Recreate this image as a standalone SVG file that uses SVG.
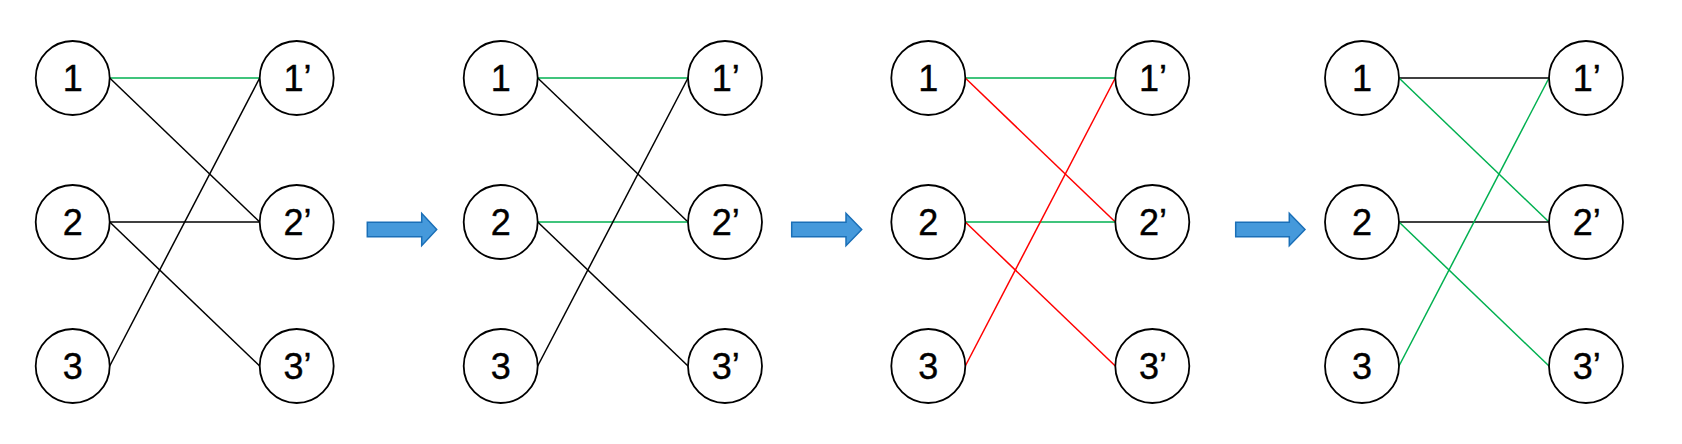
<svg xmlns="http://www.w3.org/2000/svg" width="1682" height="444" viewBox="0 0 1682 444">
<style>
.n{fill:#fff;stroke:#000;stroke-width:1.8}
.t{font-family:"Liberation Sans",Arial,sans-serif;font-size:36px;fill:#000;stroke:#000;stroke-width:0.4;text-anchor:middle}
.e{stroke-width:1.5;fill:none}
.k{stroke:#000}
.g{stroke:#00B050}
.r{stroke:#FF0000}
.a{fill:#4599DB;stroke:#1A6FB7;stroke-width:1.5}
</style>
<rect width="1682" height="444" fill="#fff"/>
<g id="connectors">
<!-- panel 1 -->
<line class="e g" x1="109.7" y1="78" x2="259.7" y2="78"/>
<line class="e k" x1="109.7" y1="78" x2="259.7" y2="222"/>
<line class="e k" x1="109.7" y1="222" x2="259.7" y2="222"/>
<line class="e k" x1="109.7" y1="222" x2="259.7" y2="366"/>
<line class="e k" x1="109.7" y1="366" x2="259.7" y2="78"/>
<!-- panel 2 -->
<line class="e g" x1="537.7" y1="78" x2="688" y2="78"/>
<line class="e k" x1="537.7" y1="78" x2="688" y2="222"/>
<line class="e g" x1="537.7" y1="222" x2="688" y2="222"/>
<line class="e k" x1="537.7" y1="222" x2="688" y2="366"/>
<line class="e k" x1="537.7" y1="366" x2="688" y2="78"/>
<!-- panel 3 -->
<line class="e g" x1="965.3" y1="78" x2="1115.3" y2="78"/>
<line class="e r" x1="965.3" y1="78" x2="1115.3" y2="222"/>
<line class="e g" x1="965.3" y1="222" x2="1115.3" y2="222"/>
<line class="e r" x1="965.3" y1="222" x2="1115.3" y2="366"/>
<line class="e r" x1="965.3" y1="366" x2="1115.3" y2="78"/>
<!-- panel 4 -->
<line class="e k" x1="1399" y1="78" x2="1549" y2="78"/>
<line class="e g" x1="1399" y1="78" x2="1549" y2="222"/>
<line class="e k" x1="1399" y1="222" x2="1549" y2="222"/>
<line class="e g" x1="1399" y1="222" x2="1549" y2="366"/>
<line class="e g" x1="1399" y1="366" x2="1549" y2="78"/>
</g>
<g id="arrows">
<polygon id="arrow1" class="a" points="367.3,222.3 421.7,222.3 421.7,213.3 436.7,229.5 421.7,245.7 421.7,236.7 367.3,236.7"/>
<polygon id="arrow2" class="a" points="791.7,222.3 846,222.3 846,213.3 861.7,229.5 846,245.7 846,236.7 791.7,236.7"/>
<polygon id="arrow3" class="a" points="1235.7,222.3 1289.3,222.3 1289.3,213.3 1305,229.5 1289.3,245.7 1289.3,236.7 1235.7,236.7"/>
</g>
<!-- panel 1 nodes -->
<g id="p1-n1"><circle class="n" cx="72.7" cy="78" r="37"/><text class="t" x="72.7" y="91">1</text></g>
<g id="p1-n2"><circle class="n" cx="72.7" cy="222" r="37"/><text class="t" x="72.7" y="235">2</text></g>
<g id="p1-n3"><circle class="n" cx="72.7" cy="366" r="37"/><text class="t" x="72.7" y="379">3</text></g>
<g id="p1-m1"><circle class="n" cx="296.7" cy="78" r="37"/><text class="t" x="297.5" y="91">1’</text></g>
<g id="p1-m2"><circle class="n" cx="296.7" cy="222" r="37"/><text class="t" x="297.5" y="235">2’</text></g>
<g id="p1-m3"><circle class="n" cx="296.7" cy="366" r="37"/><text class="t" x="297.5" y="379">3’</text></g>
<!-- panel 2 nodes -->
<g id="p2-n1"><circle class="n" cx="500.7" cy="78" r="37"/><text class="t" x="500.7" y="91">1</text></g>
<g id="p2-n2"><circle class="n" cx="500.7" cy="222" r="37"/><text class="t" x="500.7" y="235">2</text></g>
<g id="p2-n3"><circle class="n" cx="500.7" cy="366" r="37"/><text class="t" x="500.7" y="379">3</text></g>
<g id="p2-m1"><circle class="n" cx="725" cy="78" r="37"/><text class="t" x="725.8" y="91">1’</text></g>
<g id="p2-m2"><circle class="n" cx="725" cy="222" r="37"/><text class="t" x="725.8" y="235">2’</text></g>
<g id="p2-m3"><circle class="n" cx="725" cy="366" r="37"/><text class="t" x="725.8" y="379">3’</text></g>
<!-- panel 3 nodes -->
<g id="p3-n1"><circle class="n" cx="928.3" cy="78" r="37"/><text class="t" x="928.3" y="91">1</text></g>
<g id="p3-n2"><circle class="n" cx="928.3" cy="222" r="37"/><text class="t" x="928.3" y="235">2</text></g>
<g id="p3-n3"><circle class="n" cx="928.3" cy="366" r="37"/><text class="t" x="928.3" y="379">3</text></g>
<g id="p3-m1"><circle class="n" cx="1152.3" cy="78" r="37"/><text class="t" x="1153.1" y="91">1’</text></g>
<g id="p3-m2"><circle class="n" cx="1152.3" cy="222" r="37"/><text class="t" x="1153.1" y="235">2’</text></g>
<g id="p3-m3"><circle class="n" cx="1152.3" cy="366" r="37"/><text class="t" x="1153.1" y="379">3’</text></g>
<!-- panel 4 nodes -->
<g id="p4-n1"><circle class="n" cx="1362" cy="78" r="37"/><text class="t" x="1362" y="91">1</text></g>
<g id="p4-n2"><circle class="n" cx="1362" cy="222" r="37"/><text class="t" x="1362" y="235">2</text></g>
<g id="p4-n3"><circle class="n" cx="1362" cy="366" r="37"/><text class="t" x="1362" y="379">3</text></g>
<g id="p4-m1"><circle class="n" cx="1586" cy="78" r="37"/><text class="t" x="1586.8" y="91">1’</text></g>
<g id="p4-m2"><circle class="n" cx="1586" cy="222" r="37"/><text class="t" x="1586.8" y="235">2’</text></g>
<g id="p4-m3"><circle class="n" cx="1586" cy="366" r="37"/><text class="t" x="1586.8" y="379">3’</text></g>
</svg>
